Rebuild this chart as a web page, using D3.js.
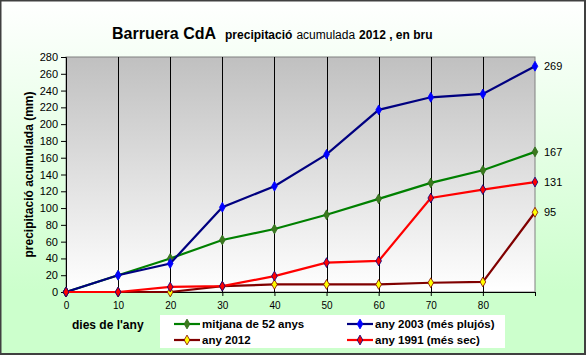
<!DOCTYPE html>
<html>
<head>
<meta charset="utf-8">
<script src="https://cdn.jsdelivr.net/npm/d3@7"></script>
<style>
  body { margin: 0; padding: 0; background: #fff; }
  svg { display: block; font-family: "Liberation Sans", Arial, sans-serif; }
</style>
</head>
<body>
<div id="chart"></div>
<script>
// dies de l'any (last point = today, no label)
var days = [0, 10, 20, 30, 40, 50, 60, 70, 80, 90];
var xTickLabels = [0, 10, 20, 30, 40, 50, 60, 70, 80];
var yTicks = [0, 20, 40, 60, 80, 100, 120, 140, 160, 180, 200, 220, 240, 260, 280];

var mitjana = [0, 20, 40, 62, 75, 92, 111, 130, 145, 167];
var any2003 = [0, 20, 34, 101, 126, 164, 217, 232, 236, 269];
var any2012 = [0, 0, 0, 7, 9, 9, 9, 11, 12, 95];
var any1991 = [0, 0, 6, 7, 19, 35, 37, 112, 122, 131];

var seriesNames = ["mitjana de 52 anys", "any 2003 (més plujós)", "any 2012", "any 1991 (més sec)"];

function chart(targetElement) {
    var W = 586, H = 355;
    var margin = {top: 57, right: 51, bottom: 63, left: 66};
    var width = W - margin.left - margin.right;
    var height = H - margin.top - margin.bottom;

    var series = [
        {name: seriesNames[0], values: mitjana, line: "#008000", fill: "#3c7a1e", stroke: "#2d6b1a"},
        {name: seriesNames[1], values: any2003, line: "#000080", fill: "#0000ff", stroke: "#0000ff"},
        {name: seriesNames[2], values: any2012, line: "#800000", fill: "#ffff00", stroke: "#800000"},
        {name: seriesNames[3], values: any1991, line: "#ff0000", fill: "#ff0000", stroke: "#000080"}
    ];

    var x = d3.scaleLinear().domain([0, 90]).range([0, width]);
    var y = d3.scaleLinear().domain([0, 280]).range([height, 0]);

    var svg = d3.select(targetElement).append("svg")
        .attr("width", W)
        .attr("height", H);

    var defs = svg.append("defs");
    var bg = defs.append("linearGradient").attr("id", "bgGrad")
        .attr("x1", 0).attr("y1", 0).attr("x2", 0).attr("y2", 1);
    bg.append("stop").attr("offset", "0%").attr("stop-color", "#ffffff");
    bg.append("stop").attr("offset", "82%").attr("stop-color", "#ccffcc");
    bg.append("stop").attr("offset", "100%").attr("stop-color", "#ccffcc");

    var pg = defs.append("linearGradient").attr("id", "plotGrad")
        .attr("x1", 0).attr("y1", 0).attr("x2", 0).attr("y2", 1);
    pg.append("stop").attr("offset", "0%").attr("stop-color", "#c0c0c0");
    pg.append("stop").attr("offset", "100%").attr("stop-color", "#ffffff");

    // chart area
    svg.append("rect")
        .attr("x", 0.5).attr("y", 0.5)
        .attr("width", W - 1).attr("height", H - 1)
        .attr("fill", "url(#bgGrad)");
    svg.append("path")
        .attr("d", "M0.5,0.5H" + (W - 1) + "V" + (H - 1) + "H0.5Z")
        .attr("fill", "none")
        .attr("stroke", "#404040")
        .attr("stroke-width", 2);

    // title
    var title = svg.append("text")
        .attr("x", 112).attr("y", 39)
        .attr("fill", "#000");
    title.append("tspan").attr("font-size", "16px").attr("font-weight", "bold").text("Barruera CdA");
    title.append("tspan").attr("font-size", "12px").attr("font-weight", "bold").attr("dx", 9).text("precipitació");
    title.append("tspan").attr("font-size", "12px").attr("dx", 4).text("acumulada");
    title.append("tspan").attr("font-size", "12px").attr("font-weight", "bold").attr("dx", 4).text("2012 , en bru");

    var g = svg.append("g")
        .attr("transform", "translate(" + margin.left + "," + margin.top + ")");

    g.append("rect")
        .attr("width", width).attr("height", height)
        .attr("fill", "url(#plotGrad)")
        .attr("stroke", "#808080");

    // vertical gridlines
    g.append("g")
        .selectAll("line")
        .data(xTickLabels.filter(Number))
        .enter().append("line")
        .attr("x1", function(d) { return Math.round(x(d)) + 0.5; })
        .attr("x2", function(d) { return Math.round(x(d)) + 0.5; })
        .attr("y1", 0).attr("y2", height)
        .attr("stroke", "#000")
        .attr("stroke-width", 1);

    // axes
    var yAxis = d3.axisLeft(y).tickValues(yTicks).tickSize(5).tickPadding(3);
    var yg = g.append("g").call(yAxis);
    yg.select(".domain").attr("stroke", "#000");
    yg.selectAll("text").attr("font-size", "11px").attr("font-family", "Liberation Sans, Arial, sans-serif").attr("fill", "#000");

    var xAxis = d3.axisBottom(x).tickValues(days).tickSize(4).tickPadding(6)
        .tickFormat(function(d) { return xTickLabels.indexOf(d) >= 0 ? d : ""; });
    var xg = g.append("g").attr("transform", "translate(0," + height + ")").call(xAxis);
    xg.select(".domain").attr("stroke", "#000");
    xg.selectAll("text").attr("font-size", "10px").attr("font-family", "Liberation Sans, Arial, sans-serif").attr("fill", "#000");

    // y label
    svg.append("text")
        .attr("transform", "translate(33," + (margin.top + height / 2) + ") rotate(-90)")
        .attr("text-anchor", "middle")
        .attr("font-size", "12px")
        .attr("font-weight", "bold")
        .text("precipitació acumulada (mm)");

    // x label
    svg.append("text")
        .attr("x", 72).attr("y", 329)
        .attr("font-size", "12px")
        .attr("font-weight", "bold")
        .text("dies de l'any");

    var line = d3.line()
        .x(function(d, i) { return x(days[i]); })
        .y(function(d) { return y(d); });

    var diamond = d3.symbol().type(d3.symbolDiamond).size(28);

    series.forEach(function(s) {
        g.append("path")
            .attr("d", line(s.values))
            .attr("fill", "none")
            .attr("stroke", s.line)
            .attr("stroke-width", 2.2);
        g.append("g")
            .selectAll("path")
            .data(s.values)
            .enter().append("path")
            .attr("d", diamond)
            .attr("transform", function(d, i) { return "translate(" + x(days[i]) + "," + y(d) + ")"; })
            .attr("fill", s.fill)
            .attr("stroke", s.stroke)
            .attr("stroke-width", 0.8);
    });

    // last values at the right
    g.append("g")
        .selectAll("text")
        .data(series)
        .enter().append("text")
        .attr("x", width + 9)
        .attr("y", function(s) { return y(s.values[s.values.length - 1]) + 4; })
        .attr("font-size", "11px")
        .text(function(s) { return s.values[s.values.length - 1]; });

    // legend
    var legend = svg.append("g").attr("transform", "translate(160,315)");
    legend.append("rect")
        .attr("width", 345).attr("height", 33)
        .attr("fill", "#fff");
    var pos = [[14, 9], [187, 9], [14, 25], [187, 25]];
    series.forEach(function(s, i) {
        var it = legend.append("g").attr("transform", "translate(" + pos[i][0] + "," + pos[i][1] + ")");
        it.append("line").attr("x1", 0).attr("x2", 26).attr("stroke", s.line).attr("stroke-width", 2.2);
        it.append("path").attr("d", diamond).attr("transform", "translate(13,0)")
            .attr("fill", s.fill).attr("stroke", s.stroke).attr("stroke-width", 0.8);
        it.append("text").attr("x", 28).attr("y", 4)
            .attr("font-size", "11.5px").attr("font-weight", "bold")
            .text(s.name);
    });
}

chart("#chart");
</script>
</body>
</html>
